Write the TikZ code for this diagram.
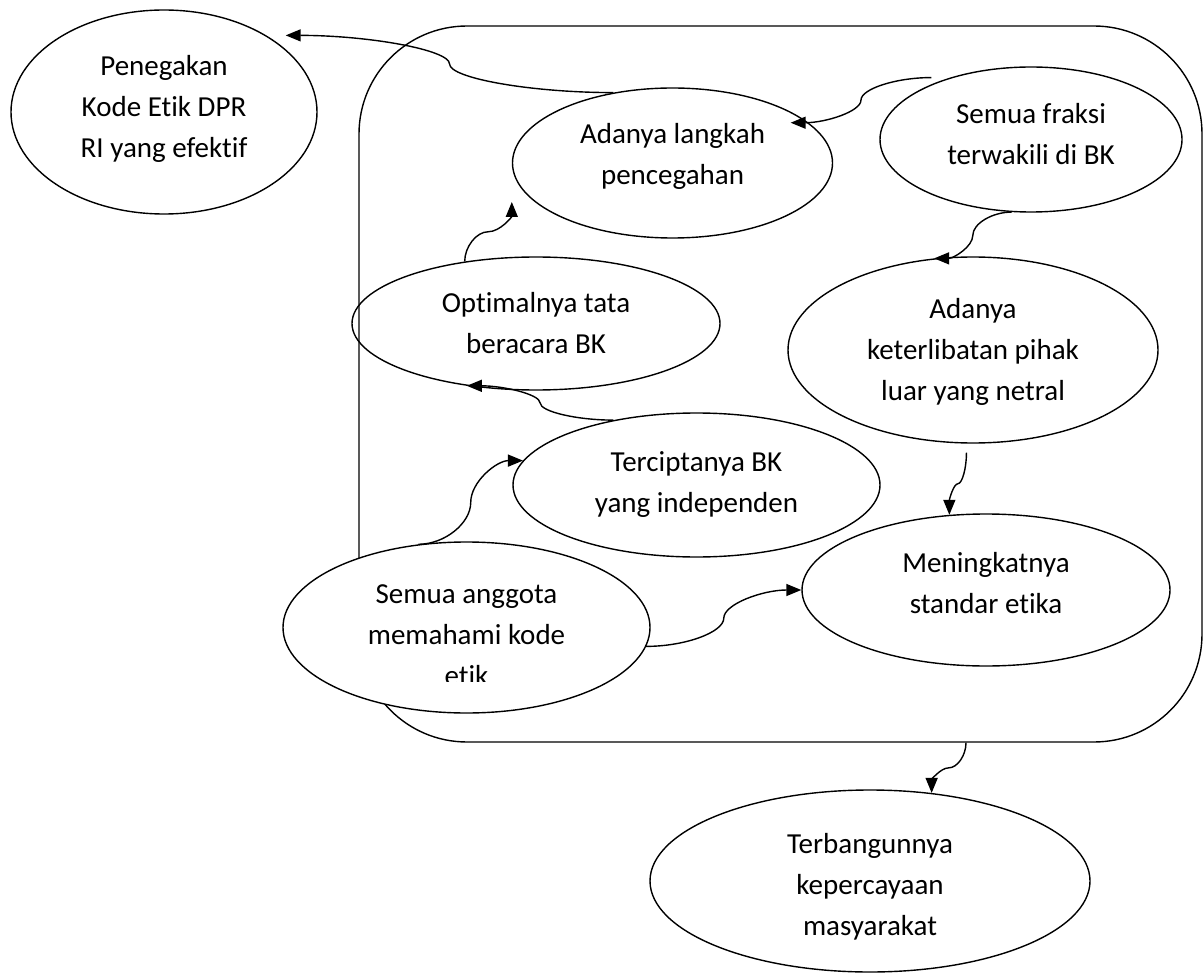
\documentclass[tikz,border=0pt]{standalone}
\usepackage{fontspec}
\setmainfont{Carlito}[Ligatures = {NoCommon, NoContextual}]
\usetikzlibrary{shapes.geometric,arrows.meta,calc}

\begin{document}
\begin{tikzpicture}[x = 1pt, y = -1pt, line width = 1.4pt,
  bubble/.style = {draw, fill = white, shape = ellipse, inner sep = 0pt, align = center, font = \fontsize{29pt}{41pt}\selectfont},
  link/.style = {-{Triangle[length = 15pt, width = 12pt]}},
  hcurve/.style = {link, to path = {let \p1 = (\tikztostart), \p2 = (\tikztotarget) in
    .. controls ({(3*\x1+\x2)/4}, \y1) and ({(\x1+\x2)/2}, {(3*\y1+\y2)/4}) .. ({(\x1+\x2)/2}, {(\y1+\y2)/2})
    .. controls ({(\x1+\x2)/2}, {(\y1+3*\y2)/4}) and ({(\x1+3*\x2)/4}, \y2) .. (\tikztotarget)}},
  vcurve/.style = {link, to path = {let \p1 = (\tikztostart), \p2 = (\tikztotarget) in
    .. controls (\x1, {(3*\y1+\y2)/4}) and ({(3*\x1+\x2)/4}, {(\y1+\y2)/2}) .. ({(\x1+\x2)/2}, {(\y1+\y2)/2})
    .. controls ({(\x1+3*\x2)/4}, {(\y1+\y2)/2}) and (\x2, {(\y1+3*\y2)/4}) .. (\tikztotarget)}}]
\useasboundingbox (0,0) rectangle (1204,973);

\node[draw, rounded corners = 108pt, minimum width = 843pt, minimum height = 716pt, inner sep = 0pt] (group) at (780.5,384) {};

\node[bubble, minimum width = 306pt, minimum height = 204pt, text height = 102pt, text depth = 11pt] (pen) at (164,112) {Penegakan\\Kode Etik DPR\\RI yang efektif};
\node[bubble, minimum width = 320pt, minimum height = 150pt, text height = 61pt, text depth = 17pt] (langkah) at (672.5,163) {Adanya langkah\\pencegahan};
\node[bubble, minimum width = 302pt, minimum height = 145pt, text height = 61pt, text depth = 10pt] (fraksi) at (1031,139.5) {Semua fraksi\\terwakili di BK};
\node[bubble, fill = none, minimum width = 368pt, minimum height = 133pt] (tata) at (536,323.5) {Optimalnya tata\\beracara BK};
\node[bubble, minimum width = 370pt, minimum height = 186pt, text height = 108pt, text depth = 7pt] (pihak) at (973,350) {Adanya\\keterlibatan pihak\\luar yang netral};
\node[bubble, minimum width = 367pt, minimum height = 144pt] (indep) at (696.5,485) {Terciptanya BK\\yang independen};
\node[bubble, minimum width = 368pt, minimum height = 152pt, text height = 61pt, text depth = 14pt] (standar) at (986,590) {Meningkatnya\\standar etika};
\node[bubble, minimum width = 367pt, minimum height = 171pt] (anggota) at (466.5,627.5) {};
\begin{scope}
\clip (0,0) rectangle (1204,681);
\node[bubble, draw = none, fill = none] (anggotateks) at (466.5,635) {Semua anggota\\memahami kode\\etik};
\end{scope}
\node[bubble, minimum width = 440pt, minimum height = 182pt, text height = 116pt, text depth = 7pt] (percaya) at (870,881) {Terbangunnya\\kepercayaan\\masyarakat};

\draw[hcurve] (langkah.130) to ([shift = {(13pt,4pt)}]pen.north east);
\draw[hcurve] ([shift = {(-7pt,4pt)}]fraksi.148) to ([shift = {(-9pt,-6pt)}]langkah.20);
\draw[hcurve] (fraksi.255) to (pihak.113);
\draw[vcurve] ([yshift = -9pt]pihak.266) to (standar.116);
\draw[hcurve] (anggota.-6) to (standar.west);
\draw[hcurve] (anggota.120) to (indep.172);
\draw[hcurve] (indep.142) to (tata.222);
\draw[vcurve] (tata.139) to ([yshift = -39pt]langkah.west);
\draw[vcurve] ([xshift = 185.5pt]group.south) to (percaya.55);
\end{tikzpicture}
\end{document}
